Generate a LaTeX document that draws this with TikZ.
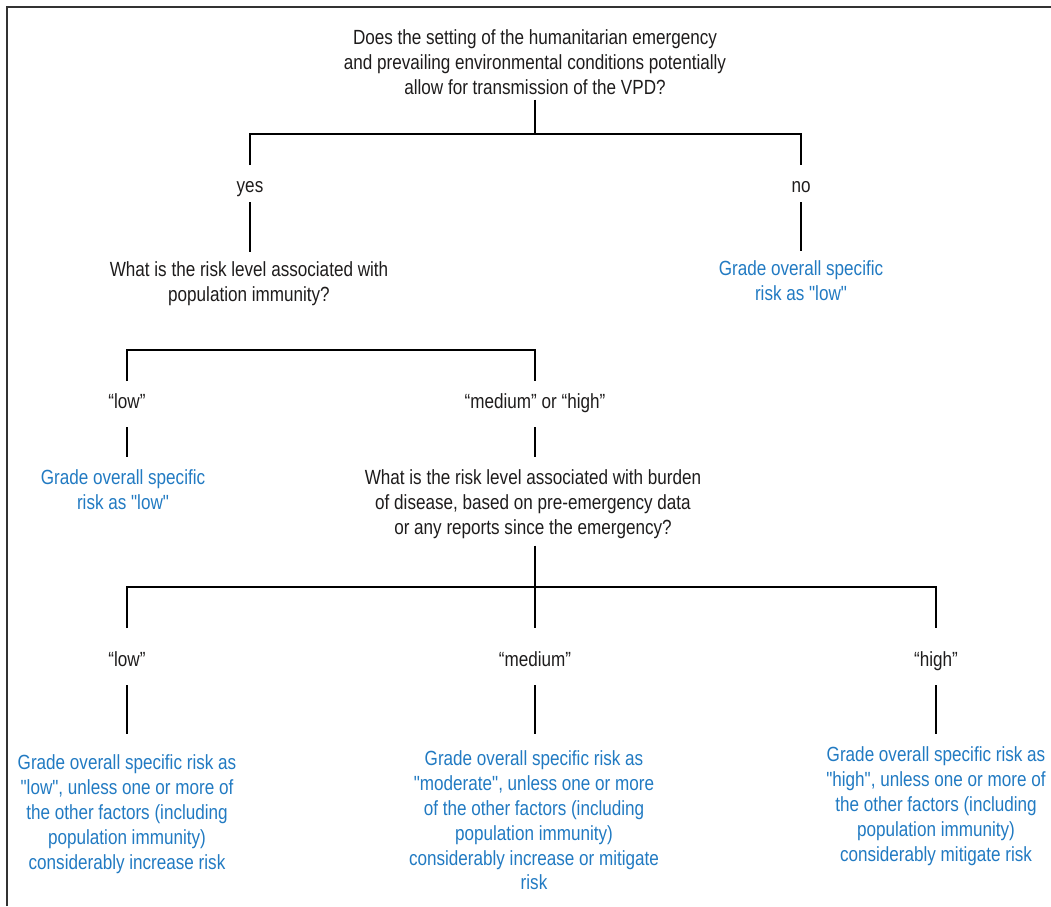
\documentclass[tikz,border=0pt]{standalone}
\usepackage{fontspec}
\setmainfont{Liberation Sans}[FakeStretch=0.834, Ligatures=TeXOff]
\usetikzlibrary{calc}
\definecolor{txt}{RGB}{30,28,28}
\definecolor{blu}{RGB}{33,122,194}
\begin{document}
\begin{tikzpicture}[x=1pt,y=-1pt,
  every node/.style={inner sep=0pt, outer sep=0pt, font=\fontsize{20.5}{24.8}\selectfont, text=txt, align=center},
  qbox/.style={anchor=north},
  lab/.style={anchor=base, text height=15pt, text depth=4.5pt},
  res/.style={anchor=north, text=blu},
  conn/.style={line width=1.5pt, draw=black}]
\useasboundingbox (0,0) rectangle (1051,906);
\draw[line width=1.2pt, draw=black!80] (7,906) -- (7,7) -- (1051,7);

% nodes
\node[qbox] (q1) at (535,30) {Does the setting of the humanitarian emergency\\and prevailing environmental conditions potentially\\allow for transmission of the VPD?};
\node[lab] (yes) at (250,192) {yes};
\node[lab] (no) at (801,192) {no};
\node[qbox] (q2) at (249,262) {What is the risk level associated with\\population immunity?};
\node[res] (gno) at (801,261) {Grade overall specific\\risk as "low"};
\node[lab] (low1) at (127,408) {“low”};
\node[lab] (medhigh) at (535,408) {“medium” or “high”};
\node[res] (glow1) at (123,470) {Grade overall specific\\risk as "low"};
\node[qbox] (q3) at (533,470) {What is the risk level associated with burden\\of disease, based on pre-emergency data\\or any reports since the emergency?};
\node[lab] (low2) at (127,666) {“low”};
\node[lab] (med) at (535,666) {“medium”};
\node[lab] (high) at (936,666) {“high”};
\node[res] (b1) at (127,755) {Grade overall specific risk as\\"low", unless one or more of\\the other factors (including\\population immunity)\\considerably increase risk};
\node[res] (b2) at (534,751) {Grade overall specific risk as\\"moderate", unless one or more\\of the other factors (including\\population immunity)\\considerably increase or mitigate\\risk};
\node[res] (b3) at (936,747) {Grade overall specific risk as\\"high", unless one or more of\\the other factors (including\\population immunity)\\considerably mitigate risk};

% connectors
\coordinate (j1) at (535,134);
\draw[conn] ($(q1.south)+(0,5)$) -- (j1);
\draw[conn] ($(yes.north)+(0,-12)$) |- (j1) -| ($(no.north)+(0,-12)$);
\draw[conn] ($(yes.south)+(0,5.5)$) -- ($(yes.south |- q2.north)+(0,-10)$);
\draw[conn] ($(no.south)+(0,5.5)$) -- ($(no.south |- gno.north)+(0,-10)$);

\draw[conn] ($(low1.north)+(0,-12)$) |- ($(medhigh.north)+(0,-43)$) -- ($(medhigh.north)+(0,-12)$);
\draw[conn] ($(low1.south)+(0,14.5)$) -- ($(low1.south |- glow1.north)+(0,-13)$);
\draw[conn] ($(medhigh.south)+(0,14.5)$) -- ($(medhigh.south |- q3.north)+(0,-13)$);

\coordinate (j3) at (535,587);
\draw[conn] ($(med.north |- q3.south)+(0,7)$) -- ($(med.north)+(0,-23)$);
\draw[conn] ($(low2.north)+(0,-23)$) |- (j3) -| ($(high.north)+(0,-23)$);
\draw[conn] ($(low2.south)+(0,14.5)$) -- ($(low2.south |- b1.north)+(0,-21)$);
\draw[conn] ($(med.south)+(0,14.5)$) -- ($(med.south |- b2.north)+(0,-17)$);
\draw[conn] ($(high.south)+(0,14.5)$) -- ($(high.south |- b3.north)+(0,-13)$);
\end{tikzpicture}
\end{document}
